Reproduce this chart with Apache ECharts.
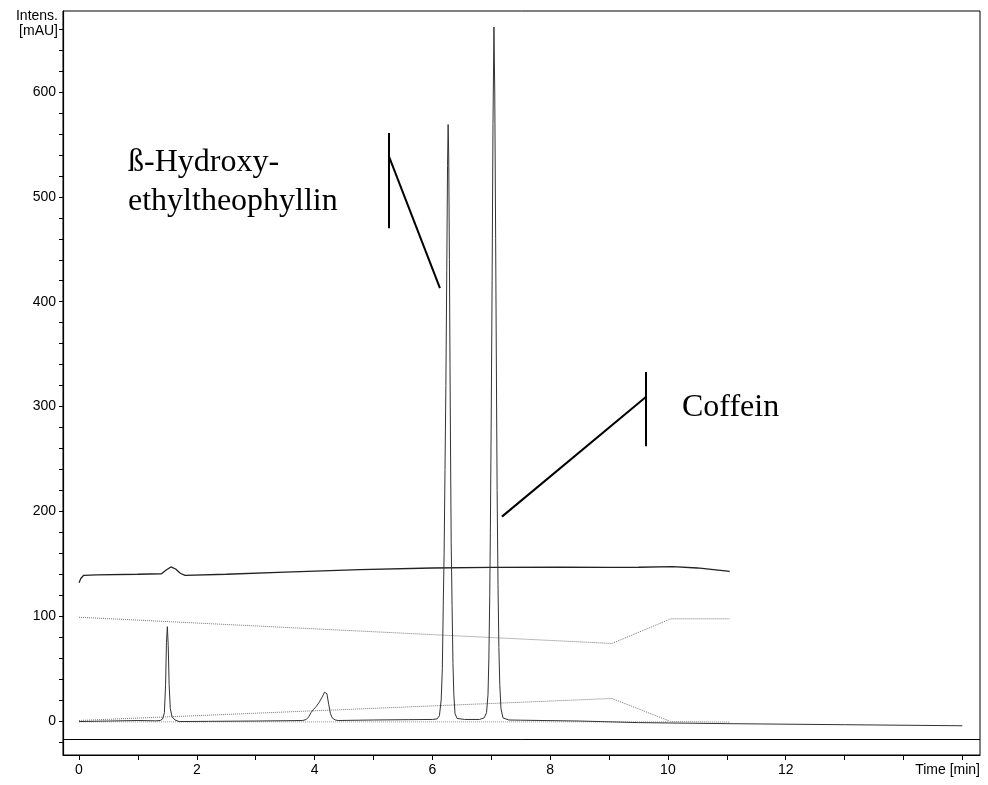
<!DOCTYPE html>
<html><head><meta charset="utf-8">
<script src="https://cdn.jsdelivr.net/npm/echarts@6/dist/echarts.min.js"></script>
<style>html,body{margin:0;padding:0;background:#fff}#c{width:988px;height:785px}</style>
</head><body><div id="c"></div>
<script>
// Main chromatogram [time min, intensity mAU]
const chromatogram = [
  [0.00,-0.5],[0.50,0],[1.00,0.5],[1.30,0.2],[1.38,0.5],[1.42,2],[1.45,8],[1.47,35],[1.485,75],[1.50,90],
  [1.515,72],[1.53,35],[1.55,12],[1.58,4],[1.63,1],[1.70,-0.5],[2.20,-0.3],[3.00,0],[3.50,0.3],[3.80,0.5],
  [3.86,1.5],[3.90,4],[3.94,8],[3.98,11],[4.03,14],[4.08,18],[4.13,23],[4.17,27.5],[4.19,28.5],[4.21,26],
  [4.24,16],[4.27,7],[4.30,3],[4.35,1],[4.40,0.5],[5.00,1],[5.60,1.3],[6.00,1.5],[6.08,2],[6.12,5],[6.15,20],[6.17,50],[6.185,110],[6.20,160],
  [6.215,240],[6.23,320],[6.245,430],[6.258,530],[6.268,569],[6.278,540],[6.29,440],[6.30,340],[6.31,250],[6.32,170],
  [6.335,110],[6.35,55],[6.365,25],[6.385,7],[6.42,2.5],[6.55,1.5],[6.80,1.5],[6.88,3],[6.92,8],[6.945,25],
  [6.96,60],[6.975,120],[6.985,180],[7.00,290],[7.015,420],[7.03,570],[7.046,662],[7.06,600],[7.075,460],[7.09,310],
  [7.10,220],[7.115,130],[7.13,70],[7.145,35],[7.165,12],[7.20,3],[7.30,1],[7.50,0.8],[8.50,0],[9.50,-1.5],
  [11.0,-2.5],[13.0,-3.5],[15.0,-4.5]
];
// Upper (pressure-like) trace
const upperTrace = [
  [0.00,132],[0.03,136],[0.08,139],[0.30,139.5],[1.00,140],[1.40,140.5],[1.48,144],[1.56,147],[1.64,145],
  [1.72,141],[1.80,139],[2.50,140],[3.50,142],[4.77,144.5],[6.00,146],[7.00,146.5],[8.17,146.8],[9.00,146.5],
  [9.50,146.7],[10.08,147.2],[10.50,146],[11.05,142.8]
];
// Gradient trace (dotted)
const gradientTrace = [[0,99],[9.05,74],[10.05,97.5],[11.05,97.5]];
// Second program trace (dotted)
const rampTrace = [[0,0.5],[9.05,21.5],[10.05,-0.5],[11.05,-1]];
// Flat dotted reference
const zeroTrace = [[0,-0.8],[10,-0.8]];
// Horizontal offset line
const offsetLevel = -17.2;

const xLabelValues = [0,2,4,6,8,10,12];
const xTickValues = [0,1,2,3,4,5,6,7,8,9,10,11,12,13,14,15];
const yLabelValues = [0,100,200,300,400,500,600];
const yTickValues = [-20,0,20,40,60,80,100,120,140,160,180,200,220,240,260,280,300,320,340,360,380,400,420,440,460,480,500,520,540,560,580,600,620,640,660];

// Annotation pointers in data coordinates
const hydroxyBar = [[5.268,561],[5.268,470]];
const hydroxyPointer = [[5.268,538],[6.129,413]];
const coffeinBar = [[9.626,333],[9.626,262]];
const coffeinPointer = [[9.626,309],[7.182,195]];

const chart = echarts.init(document.getElementById('c'), null, {renderer:'canvas'});
const sans = 'Liberation Sans, Arial, sans-serif';
const serif = 'Liberation Serif, Times New Roman, serif';
chart.setOption({
  animation:false,
  backgroundColor:'#fff',
  grid:{left:63,right:8,top:11,bottom:30,show:true,borderColor:'#000',borderWidth:1,backgroundColor:'transparent'},
  xAxis:{type:'value',min:-0.272,max:15.3,
    axisLine:{show:true,onZero:false,lineStyle:{color:'#000',width:1.2}},
    axisTick:{show:true,customValues:xTickValues,length:5,lineStyle:{color:'#000'}},
    axisLabel:{customValues:xLabelValues,color:'#000',fontSize:14,fontFamily:sans,margin:8},
    splitLine:{show:false}},
  yAxis:{type:'value',min:-32.4,max:677.3,
    axisLine:{show:true,onZero:false,lineStyle:{color:'#000',width:1.2}},
    axisTick:{show:true,customValues:yTickValues,length:4,lineStyle:{color:'#000'}},
    axisLabel:{customValues:yLabelValues,color:'#000',fontSize:14,fontFamily:sans,margin:7},
    splitLine:{show:false}},
  series:[
    {type:'line',data:zeroTrace,symbol:'none',lineStyle:{color:'#999',width:1,type:'dotted'},silent:true},
    {type:'line',data:gradientTrace,symbol:'none',lineStyle:{color:'#777',width:1,type:'dotted'},silent:true},
    {type:'line',data:rampTrace,symbol:'none',lineStyle:{color:'#777',width:1,type:'dotted'},silent:true},
    {type:'line',data:upperTrace,symbol:'none',lineStyle:{color:'#222',width:1.3},silent:true},
    {type:'line',data:chromatogram,symbol:'none',lineStyle:{color:'#333',width:1},silent:true,
      markLine:{silent:true,symbol:'none',label:{show:false},
        data:[
          [{coord:[-0.272,offsetLevel],lineStyle:{color:'#000',width:1,type:'solid'}},{coord:[15.3,offsetLevel]}],
          [{coord:hydroxyBar[0],lineStyle:{color:'#000',width:2,type:'solid'}},{coord:hydroxyBar[1]}],
          [{coord:hydroxyPointer[0],lineStyle:{color:'#000',width:2,type:'solid'}},{coord:hydroxyPointer[1]}],
          [{coord:coffeinBar[0],lineStyle:{color:'#000',width:2,type:'solid'}},{coord:coffeinBar[1]}],
          [{coord:coffeinPointer[0],lineStyle:{color:'#000',width:2,type:'solid'}},{coord:coffeinPointer[1]}]
        ]}}
  ],
  graphic:[
    {type:'text',right:930,top:9,style:{text:'Intens.',font:'14px '+sans,fill:'#000',textAlign:'right'}},
    {type:'text',right:930,top:24,style:{text:'[mAU]',font:'14px '+sans,fill:'#000',textAlign:'right'}},
    {type:'text',right:8,top:763,style:{text:'Time [min]',font:'14px '+sans,fill:'#000'}},
    {type:'text',left:128,top:143,style:{text:'ß-Hydroxy-\nethyltheophyllin',font:'32px '+serif,fill:'#000',lineHeight:39}},
    {type:'text',left:682,top:392,style:{text:'Coffein',font:'32px '+serif,fill:'#000'}}
  ]
});
</script></body></html>
